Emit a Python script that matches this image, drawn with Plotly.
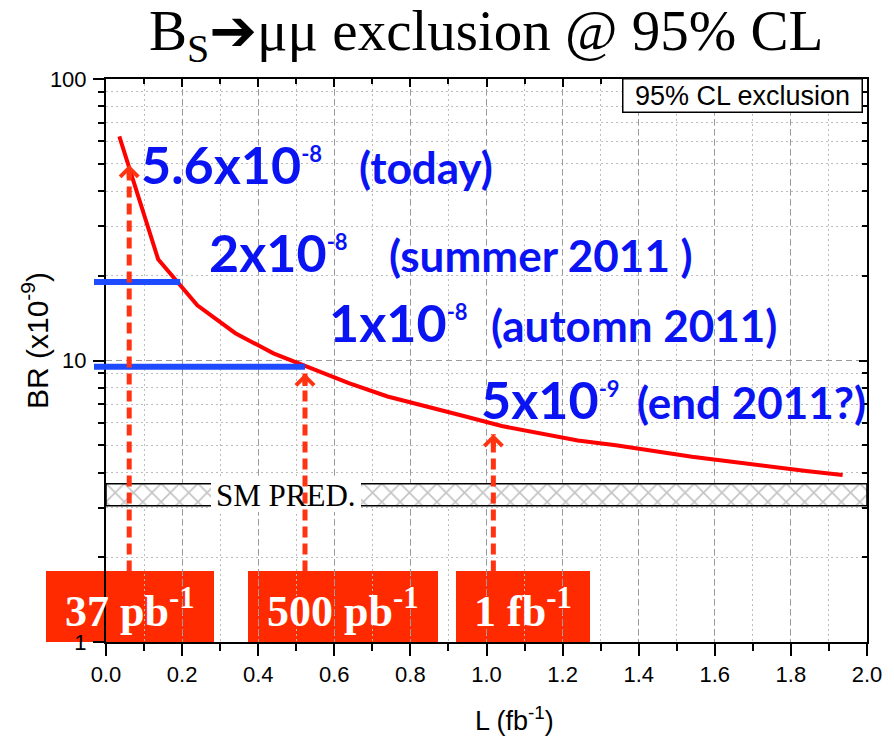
import math
import plotly.graph_objects as go

# ---------------------------------------------------------------------------
# Expected 95% CL upper limit on BR(Bs -> mu mu) versus integrated luminosity
# ---------------------------------------------------------------------------
lumi_fb = [0.035, 0.137, 0.24, 0.34, 0.44, 0.54, 0.64, 0.74, 0.84, 0.94,
           1.04, 1.14, 1.24, 1.34, 1.44, 1.54, 1.64, 1.74, 1.84, 1.936]
br_limit = [62.5, 22.9, 15.7, 12.5, 10.6, 9.4, 8.3, 7.45, 6.85, 6.35,
            5.85, 5.5, 5.2, 5.0, 4.75, 4.55, 4.38, 4.2, 4.05, 3.92]

# Standard Model prediction band (units of 1e-9)
sm_band = [3.05, 3.65]
sm_label = "SM PRED."

# Limits reached at the milestones (horizontal blue lines)
milestone_br = [19.0, 9.5]
milestone_lumi_end = [0.195, 0.523]

# Luminosity milestones (dashed arrows up to the curve)
arrow_lumi = [0.061, 0.523, 1.018]
arrow_tip_br = [49.5, 9.0, 5.47]
arrow_base_br = 1.78
lumi_labels = ["37 pb<sup>-1</sup>", "500 pb<sup>-1</sup>", "1 fb<sup>-1</sup>"]

# Limit statements
limit_values = ["5.6x10", "2x10", "1x10", "5x10"]
limit_exponents = ["-8", "-8", "-8", "-9"]
limit_when = ["(today)", "(summer 2011 )", "(automn 2011)", "(end 2011?)"]

x_ticks = [0.0, 0.2, 0.4, 0.6, 0.8, 1.0, 1.2, 1.4, 1.6, 1.8, 2.0]

# ---------------------------------------------------------------------------
# Page geometry (pixels) and helpers for placing decorations in paper units
# ---------------------------------------------------------------------------
W, H = 894, 736
PL, PR, PT, PB = 106, 867, 79, 642


def px(x):
    return (x - PL) / (PR - PL)


def py(y):
    return (PB - y) / (PB - PT)


RED = "#ff0000"
ARROW_RED = "#ff3311"
BOX_RED = "#ff2a00"
BLUE_TXT = "#0a14f2"
BLUE_LINE = "#1e4bff"
SANS = "Liberation Sans, Arial, sans-serif"
SERIF = "Liberation Serif, Times New Roman, DejaVu Sans, serif"
CAL = "Lato, Open Sans, sans-serif"

fig = go.Figure()

# SM band, cross-hatched
fig.add_trace(go.Scatter(
    x=[0, 2, 2, 0, 0],
    y=[sm_band[0], sm_band[0], sm_band[1], sm_band[1], sm_band[0]],
    mode="lines", fill="toself",
    line=dict(color="black", width=1.5),
    fillcolor="white",
    fillpattern=dict(shape="x", size=13, solidity=0.25,
                     fgcolor="#8c8c8c", bgcolor="white"),
    hoverinfo="skip", showlegend=False,
))

# Expected limit curve
fig.add_trace(go.Scatter(
    x=lumi_fb, y=br_limit, mode="lines",
    line=dict(color=RED, width=4), showlegend=False,
))

# carrier for the mirrored top/right axes
fig.add_trace(go.Scatter(x=[None], y=[None], xaxis="x2", yaxis="y2",
                         showlegend=False, hoverinfo="skip"))

shapes = []
annotations = []

# red luminosity boxes (under the grid)
box_px = [(46, 214), (248, 438), (456, 590)]
for (x0, x1) in box_px:
    shapes.append(dict(type="rect", xref="paper", yref="paper",
                       x0=px(x0), x1=px(x1), y0=py(PB), y1=py(571),
                       fillcolor=BOX_RED, line=dict(width=0), layer="below"))

# white patch behind the SM label
shapes.append(dict(type="rect", xref="paper", yref="paper",
                   x0=px(211), x1=px(361), y0=py(512), y1=py(478),
                   fillcolor="white", line=dict(width=0), layer="above"))

# blue milestone lines
for br, xe in zip(milestone_br, milestone_lumi_end):
    shapes.append(dict(type="line", xref="x", yref="y", x0=0, x1=xe,
                       y0=br, y1=br, line=dict(color=BLUE_LINE, width=6),
                       layer="above"))
    shapes.append(dict(type="line", xref="paper", yref="y", x0=px(94), x1=0,
                       y0=br, y1=br, line=dict(color=BLUE_LINE, width=6),
                       layer="above"))

# dashed arrows
for xa, tip in zip(arrow_lumi, arrow_tip_br):
    shapes.append(dict(type="line", xref="x", yref="y", x0=xa, x1=xa,
                       y0=arrow_base_br, y1=tip,
                       line=dict(color=ARROW_RED, width=5, dash="11px,6px"),
                       layer="above"))
    annotations.append(dict(x=xa, y=math.log10(tip), xref="x", yref="y",
                            text="", showarrow=True, arrowhead=4,
                            arrowsize=0.7, arrowwidth=5, arrowcolor=ARROW_RED,
                            ax=0, ay=14, standoff=0))

# luminosity labels in the red boxes
for (x0, x1), lab in zip(box_px, lumi_labels):
    annotations.append(dict(x=px((x0 + x1) / 2), y=py(608), xref="paper",
                            yref="paper", xanchor="center", yanchor="middle",
                            text=lab, showarrow=False,
                            font=dict(family=SERIF, size=44, color="white",
                                      weight="bold")))

# limit statements
value_anchor = [(140, 185), (208, 273), (328, 343), (480, 420)]
when_left = [358, 388, 490, 636]
for (xl, base), val, exp_, wl, when in zip(value_anchor, limit_values,
                                           limit_exponents, when_left,
                                           limit_when):
    annotations.append(dict(
        x=px(xl), y=py(base + 11), xref="paper", yref="paper",
        xanchor="left", yanchor="bottom", showarrow=False, borderpad=0,
        text=f"{val}<sup><span style='font-size:22px'>{exp_}</span></sup>",
        font=dict(family=CAL, size=52, color=BLUE_TXT, weight="bold")))
    annotations.append(dict(
        x=px(wl), y=py(base + 9), xref="paper", yref="paper",
        xanchor="left", yanchor="bottom", showarrow=False, borderpad=0,
        text=when,
        font=dict(family=CAL, size=44, color=BLUE_TXT, weight="bold")))

# SM label
annotations.append(dict(x=px(286), y=py(495), xref="paper", yref="paper",
                        xanchor="center", yanchor="middle", showarrow=False,
                        text=sm_label,
                        font=dict(family=SERIF, size=31, color="black")))

# legend-style box
annotations.append(dict(x=px(863), y=py(78), xref="paper", yref="paper",
                        xanchor="right", yanchor="top", showarrow=False,
                        text="95% CL exclusion", width=238, height=32,
                        bgcolor="white", bordercolor="black", borderwidth=1.5,
                        borderpad=0,
                        font=dict(family=SANS, size=27, color="black")))

# axis titles
annotations.append(dict(x=px(35), y=py(341), xref="paper", yref="paper",
                        xanchor="center", yanchor="middle", showarrow=False,
                        textangle=-90, text="BR (x10<sup>-9</sup>)",
                        font=dict(family=SANS, size=30, color="black")))
annotations.append(dict(x=px(514), y=py(719), xref="paper", yref="paper",
                        xanchor="center", yanchor="middle", showarrow=False,
                        text="L (fb<sup>-1</sup>)",
                        font=dict(family=SANS, size=27, color="black")))

# title
annotations.append(dict(x=px(486), y=py(73), xref="paper", yref="paper",
                        xanchor="center", yanchor="bottom", showarrow=False,
                        text="B<sub>S</sub>\u2794\u03bc\u03bc exclusion @ 95% CL",
                        font=dict(family=SERIF, size=57, color="black")))

grid_major = dict(showgrid=True, gridcolor="#9a9a9a", gridwidth=1,
                  griddash="6px,4px")
tickfont = dict(family=SANS, size=22, color="black")

fig.update_layout(
    width=W, height=H,
    margin=dict(l=PL, r=W - PR, t=PT, b=H - PB),
    paper_bgcolor="white", plot_bgcolor="rgba(0,0,0,0)",
    showlegend=False,
    shapes=shapes, annotations=annotations,
    xaxis=dict(range=[0, 2], tickvals=x_ticks, tickformat=".1f",
               ticks="outside", ticklen=12, tickwidth=2, tickcolor="black",
               showline=True, linewidth=2, linecolor="black", zeroline=False,
               tickfont=tickfont, ticklabelstandoff=0,
               minor=dict(dtick=0.1, tick0=0, ticks="outside", ticklen=7,
                          tickwidth=2, tickcolor="black", showgrid=True,
                          gridcolor="#bdbdbd", gridwidth=1, griddash="2px,3px"),
               **grid_major),
    yaxis=dict(type="log", range=[0, 2], dtick=1,
               ticks="outside", ticklen=11, tickwidth=2, tickcolor="black",
               showline=True, linewidth=2, linecolor="black", zeroline=False,
               tickfont=tickfont, ticklabelstandoff=2,
               minor=dict(dtick="D1", ticks="outside", ticklen=6,
                          tickwidth=2, tickcolor="black", showgrid=True,
                          gridcolor="#bdbdbd", gridwidth=1, griddash="2px,3px"),
               **grid_major),
    xaxis2=dict(overlaying="x", side="top", anchor="y2", range=[0, 2],
                dtick=0.2, ticks="inside", ticklen=8, tickwidth=2,
                tickcolor="black", showticklabels=False, showgrid=False,
                showline=True, linewidth=2, linecolor="black", zeroline=False,
                minor=dict(dtick=0.1, ticks="inside", ticklen=5, tickwidth=2,
                           tickcolor="black", showgrid=False)),
    yaxis2=dict(overlaying="y", side="right", anchor="x2", type="log",
                range=[0, 2], dtick=1, ticks="inside", ticklen=8, tickwidth=2,
                tickcolor="black", showticklabels=False, showgrid=False,
                showline=True, linewidth=2, linecolor="black", zeroline=False,
                minor=dict(dtick="D1", ticks="inside", ticklen=5, tickwidth=2,
                           tickcolor="black", showgrid=False)),
)

fig.write_html("out.html")
